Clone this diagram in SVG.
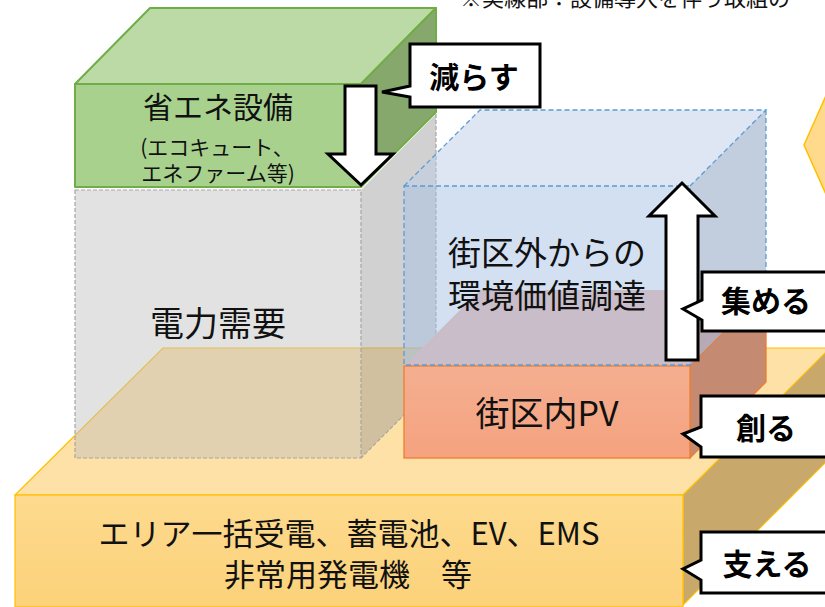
<svg xmlns="http://www.w3.org/2000/svg" width="825" height="607" viewBox="0 0 825 607">
<defs>
<style>
text{font-family:"Noto Sans CJK JP","Noto Sans CJK SC",sans-serif;fill:#111;}
.lbl{text-anchor:middle;}
.call{font-weight:700;font-size:30px;text-anchor:middle;fill:#000;}
.bubble{fill:#fff;stroke:#000;stroke-width:3;stroke-linejoin:miter;}
.arrow{fill:#fff;stroke:#000;stroke-width:3;stroke-linejoin:miter;}
.gold{stroke:#FFC000;stroke-width:1.2;}
.gdash{fill:none;stroke:#A6A6A6;stroke-width:1.2;stroke-dasharray:4 2;}
.bdash{fill:none;stroke:#5B9BD5;stroke-width:1.3;stroke-dasharray:5 3;}
.green{stroke:#70AD47;stroke-width:2;stroke-linejoin:round;}
.pv{stroke:#ED7D31;stroke-width:1.3;}
</style>
<linearGradient id="baseFront" x1="0" y1="0" x2="0" y2="1">
<stop offset="0" stop-color="#FDDA8E"/><stop offset="1" stop-color="#FCD27A"/>
</linearGradient>
<linearGradient id="pvFront" x1="0" y1="0" x2="0" y2="1">
<stop offset="0" stop-color="#F4AF90"/><stop offset="1" stop-color="#F5A27F"/>
</linearGradient>
</defs>
<rect width="825" height="607" fill="#fff"/>

<text x="460" y="6" font-size="22">※実線部：設備導入を伴う取組の</text>

<g id="other-shape">
<polygon points="804,145 829,89 840,89 840,201 829,201" fill="#FFD98C" stroke="#FFC000" stroke-width="1.5"/>
</g>

<g id="base">
<polygon points="15,495 163,348 835,348 683,495" fill="#FEE1A6" class="gold"/>
<polygon points="683,495 835,343 835,453 683,605" fill="#C9A96B" class="gold"/>
<rect x="15" y="495" width="668" height="112" fill="url(#baseFront)" class="gold"/>
<text class="lbl" x="349" y="545" font-size="31">エリア一括受電、蓄電池、EV、EMS</text>
<text class="lbl" x="348" y="586" font-size="31">非常用発電機　等</text>
</g>

<g id="demand">
<polygon points="361,190 436,114 436,383 361,458" fill="#999999" fill-opacity="0.45"/>
<rect x="75" y="190" width="286" height="268" fill="#BFBFBF" fill-opacity="0.45"/>
<rect x="75" y="190" width="286" height="268" class="gdash"/>
<path d="M436,114 V383 L361,458" class="gdash"/>
<text class="lbl" x="218" y="336" font-size="34">電力需要</text>
</g>

<g id="saving">
<polygon points="75,84 150,8 436,8 361,84" fill="#BBDAA5" class="green"/>
<polygon points="361,84 436,8 436,112 361,187" fill="#87A86D" class="green"/>
<rect x="75" y="84" width="286" height="103" fill="#A9D18E" class="green"/>
<text class="lbl" x="218" y="118" font-size="30">省エネ設備</text>
<text class="lbl" x="217" y="155" font-size="21">(エコキュート、</text>
<text class="lbl" x="218" y="181" font-size="21">エネファーム等)</text>
</g>

<g id="pv">
<polygon points="404,366 480,290 766,290 690,366" fill="#EBB9AF"/>
<polygon points="690,366 766,290 766,382 690,458" fill="#C48A72" class="pv"/>
<rect x="404" y="366" width="286" height="92" fill="url(#pvFront)" class="pv"/>
<text class="lbl" x="547" y="426" font-size="34">街区内PV</text>
</g>

<g id="procurement">
<polygon points="404,186 480,110 766,110 690,186" fill="#BDCDE7" fill-opacity="0.5"/>
<polygon points="690,186 766,110 766,290 690,366" fill="#859BBB" fill-opacity="0.5"/>
<rect x="404" y="186" width="286" height="179" fill="#A7C1E3" fill-opacity="0.5"/>
<rect x="404" y="186" width="286" height="179" class="bdash"/>
<path d="M404,186 L480,110 H766 L690,186 M766,110 V290" class="bdash"/>
<text class="lbl" x="547" y="265" font-size="33">街区外からの</text>
<text class="lbl" x="547" y="308" font-size="33">環境価値調達</text>
</g>

<g id="connectors">
<path class="arrow" d="M345,86 H376 V154 H393 L361,185 L328,154 H345 Z"/>
<path class="arrow" d="M666,360 V216 H649 L682,183 L715,216 H698 V360 Z"/>
</g>

<g id="reduce">
<path class="bubble" d="M410,44 H540 V107 H410 V97 L382,92 L410,86 Z"/>
<text class="call" x="474" y="88">減らす</text>
</g>
<g id="collect">
<path class="bubble" d="M702,272 H830 V331 H702 V320 L683,309 L702,300 Z"/>
<text class="call" x="766" y="312">集める</text>
</g>
<g id="create">
<path class="bubble" d="M701,396 H830 V457 H701 V447 L683,434 L701,427 Z"/>
<text class="call" x="766" y="439">創る</text>
</g>
<g id="support">
<path class="bubble" d="M701,532 H830 V593 H701 V580 L683,569 L701,560 Z"/>
<text class="call" x="767" y="575">支える</text>
</g>
</svg>
